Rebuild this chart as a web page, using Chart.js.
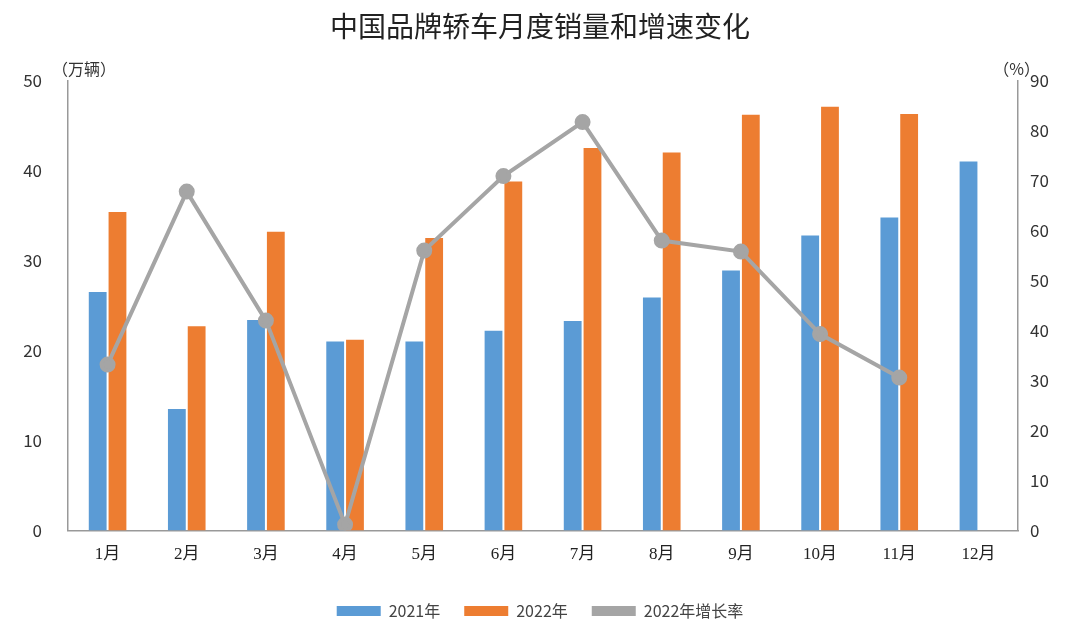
<!DOCTYPE html>
<html><head><meta charset="utf-8">
<script src="https://cdn.jsdelivr.net/npm/chart.js@4/dist/chart.umd.min.js"></script>
<style>html,body{margin:0;background:#fff}#wrap{width:1080px;height:637px}</style>
</head><body><div id="wrap"><canvas id="c"></canvas></div>
<script>
// 月份和数据
const months = ['1月','2月','3月','4月','5月','6月','7月','8月','9月','10月','11月','12月'];
const sales2021 = [26.5,13.5,23.4,21.0,21.0,22.2,23.3,25.9,28.9,32.8,34.8,41.0];
const sales2022 = [35.4,22.7,33.2,21.2,32.5,38.8,42.5,42.0,46.2,47.1,46.3,null];
const growth2022 = [33.2,67.8,42.0,1.2,56.0,70.9,81.7,58.0,55.8,39.3,30.6,null];

const FONT = '"Noto Sans CJK SC", "Noto Sans", sans-serif';

// 坐标轴单位文字
const unitLabels = {
  id: 'unitLabels',
  afterDraw(chart) {
    const c = chart.ctx, a = chart.chartArea;
    c.save();
    c.fillStyle = '#333';
    c.font = '16px ' + FONT;
    c.textBaseline = 'bottom';
    c.textAlign = 'left';
    c.fillText('（万辆）', 52, a.top - 4);
    c.textAlign = 'right';
    c.fillText('（%）', 1040, a.top - 4);
    c.restore();
  }
};

new Chart(document.getElementById('c'), {
  data: {
    labels: months,
    datasets: [
      { type: 'line', label: '2022年增长率', data: growth2022, yAxisID: 'y1',
        borderColor: '#a5a5a5', backgroundColor: '#a5a5a5', borderWidth: 4,
        pointRadius: 6, pointBackgroundColor: '#a5a5a5', tension: 0, order: 0 },
      { type: 'bar', label: '2021年', data: sales2021, yAxisID: 'y',
        backgroundColor: '#5b9bd5', categoryPercentage: 0.5, barPercentage: 0.9, order: 1 },
      { type: 'bar', label: '2022年', data: sales2022, yAxisID: 'y',
        backgroundColor: '#ed7d31', categoryPercentage: 0.5, barPercentage: 0.9, order: 1 }
    ]
  },
  options: {
    responsive: true,
    maintainAspectRatio: false,
    animation: false,
    layout: { padding: { top: 10, bottom: 8, left: 0, right: 0 } },
    plugins: {
      title: { display: true, text: '中国品牌轿车月度销量和增速变化', color: '#222',
        font: { family: FONT, size: 28, weight: 'normal' }, padding: { top: 0, bottom: 37 } },
      legend: { position: 'bottom', labels: {
        color: '#444', font: { family: FONT, size: 16 }, padding: 24, boxWidth: 44, boxHeight: 10,
        generateLabels(chart) {
          const order = [1, 2, 0];
          return order.map(i => {
            const ds = chart.data.datasets[i];
            return { text: ds.label, fillStyle: ds.backgroundColor, strokeStyle: ds.backgroundColor,
              lineWidth: 0, datasetIndex: i, fontColor: '#444',
              pointStyle: i === 0 ? 'line' : undefined };
          });
        } } },
      tooltip: { enabled: false }
    },
    scales: {
      x: {
        grid: { display: false, drawTicks: false },
        border: { color: '#999', width: 1.5 },
        ticks: { color: '#222', padding: 14, font: { family: '"Liberation Serif", "Noto Sans CJK SC", serif', size: 17 } }
      },
      y: {
        position: 'left', min: 0, max: 50,
        afterFit(s) { s.width = 68; },
        grid: { display: false, drawTicks: false },
        border: { color: '#999', width: 1.5 },
        ticks: { stepSize: 10, color: '#333', padding: 26, font: { family: FONT, size: 17 } }
      },
      y1: {
        position: 'right', min: 0, max: 90,
        afterFit(s) { s.width = 62; },
        grid: { display: false, drawTicks: false },
        border: { color: '#999', width: 1.5 },
        ticks: { stepSize: 10, color: '#333', padding: 12, font: { family: FONT, size: 17 } }
      }
    }
  },
  plugins: [unitLabels]
});
</script></body></html>
